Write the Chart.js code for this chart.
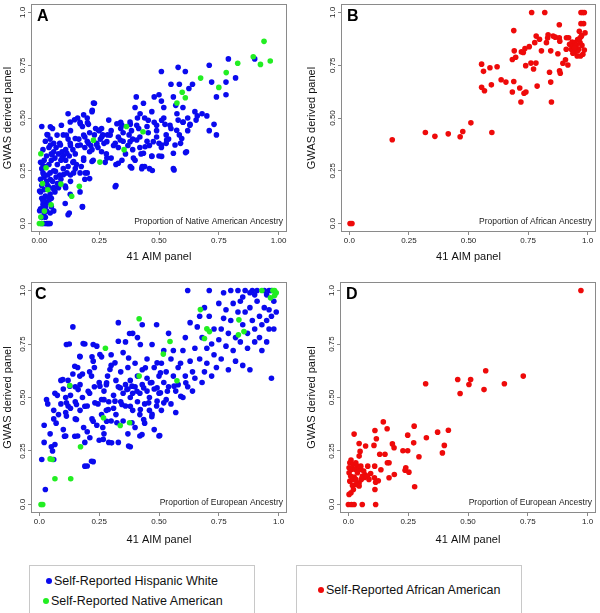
<!DOCTYPE html>
<html>
<head>
<meta charset="utf-8">
<script src="https://cdn.jsdelivr.net/npm/chart.js@4.4.1/dist/chart.umd.min.js"></script>
<style>
  body { margin: 0; background: #fff; width: 600px; height: 613px; position: relative; overflow: hidden; }
  .panel { position: absolute; }
  .legend { position: absolute; border: 1px solid #c8c8c8; background: #fff;
            font-family: "Liberation Sans", Arial, sans-serif; font-size: 12.5px; color: #111; }
  .legend div { position: absolute; white-space: nowrap; }
  .legend span.dot { display: inline-block; width: 6px; height: 6px; border-radius: 50%; margin-right: 2px; vertical-align: 1px; }
</style>
</head>
<body>
<div class="panel" style="left:0;top:0;width:300px;height:265px"><canvas id="chartA"></canvas></div>
<div class="panel" style="left:300px;top:0;width:300px;height:265px"><canvas id="chartB"></canvas></div>
<div class="panel" style="left:0;top:265px;width:300px;height:283px"><canvas id="chartC"></canvas></div>
<div class="panel" style="left:300px;top:265px;width:300px;height:283px"><canvas id="chartD"></canvas></div>

<div class="legend" style="left:29px;top:565px;width:224px;height:47px">
  <div style="left:16px;top:8px"><span class="dot" style="background:#0a0aee"></span>Self-Reported Hispanic White</div>
  <div style="left:13px;top:28px"><span class="dot" style="background:#22ee22"></span>Self-Reported Native American</div>
</div>
<div class="legend" style="left:296px;top:565px;width:224px;height:47px">
  <div style="left:21px;top:17px"><span class="dot" style="background:#ee0a0a"></span>Self-Reported African American</div>
</div>

<script>
// axis ticks shared by all panels
const tickValues = [0, 0.25, 0.5, 0.75, 1];
const yTickLabels = ['0.0', '0.25', '0.50', '0.75', '1.0'];
const xTickLabelsA = ['0.00', '0.25', '0.50', '0.75', '1.00'];
const xTickLabelsB = ['0.0', '0.25', '0.50', '0.75', '1.0'];

// Panel A: Native American ancestry (x = 41 AIM, y = GWAS)
const aBlueX = [0.01,0.02,0.03,0.035,0.04,0.045,0.01,0.02,0.005,0.015,0.03,0.01,0.025,0.005,0.02,0.04,0.01,0.03,0.005,0.02,0.035,0.015,0.045,0.01,0.025,0.04,0.005,0.02,0.05,0.03,0.015,0.05,0.04,0.06,0.01,0.055,0.035,0.045,0.025,0.06,0.07,0.065,0.08,0.075,0.09,0.06,0.07,0.055,0.08,0.065,0.05,0.04,0.06,0.03,0.045,0.025,0.05,0.02,0.045,0.035,0.06,0.075,0.085,0.09,0.1,0.095,0.1,0.11,0.085,0.1,0.12,0.13,0.12,0.13,0.14,0.11,0.125,0.15,0.14,0.12,0.115,0.13,0.15,0.13,0.11,0.125,0.155,0.16,0.165,0.17,0.18,0.16,0.185,0.175,0.17,0.17,0.18,0.19,0.2,0.19,0.2,0.19,0.21,0.205,0.2,0.215,0.22,0.225,0.21,0.23,0.24,0.235,0.25,0.245,0.255,0.22,0.23,0.26,0.265,0.27,0.26,0.28,0.275,0.285,0.29,0.3,0.31,0.3,0.32,0.32,0.33,0.33,0.34,0.34,0.35,0.35,0.36,0.345,0.37,0.375,0.38,0.385,0.39,0.39,0.4,0.38,0.4,0.405,0.41,0.415,0.42,0.42,0.425,0.43,0.44,0.435,0.44,0.45,0.455,0.45,0.46,0.47,0.46,0.48,0.47,0.48,0.49,0.49,0.5,0.51,0.5,0.5,0.51,0.52,0.51,0.52,0.525,0.53,0.54,0.53,0.55,0.56,0.55,0.56,0.57,0.575,0.58,0.585,0.59,0.58,0.585,0.6,0.6,0.61,0.615,0.62,0.62,0.63,0.625,0.64,0.65,0.655,0.66,0.68,0.7,0.71,0.71,0.72,0.73,0.74,0.74,0.78,0.78,0.79,0.82,0.9,
    0.147,0.185,0.226,0.221,0.201,0.171,0.129,0.092,0.046,0.032,0.074,0.113,0.15,0.185,0.247,0.261,0.296,0.324,0.345,0.379,0.407,0.421,0.455,0.49,0.511,0.546,0.574,0.601,0.629,
    0.046,0.088,0.129,0.171,0.205,0.24,0.282,0.317,0.338,0.379,0.407,0.442,0.476,0.511,0.532,0.567,0.595,
    0.053,0.095,0.115,0.143,0.185,0.22,0.282,0.33,0.393,0.435,0.47,0.511,0.56,
    0.067,0.101,0.143,0.192,0.21,0.108,0.129,0.108,0.18,0.12,0.317,0.386,0.428,0.472,0.563,0.611,
    0.001,0.015,0.039,0.001,0.025,0.018,0.046,0.011,0.06];
const aBlueY = [0,0,0,0,0,0,0.03,0.05,0.07,0.09,0.1,0.12,0.13,0.15,0.16,0.17,0.18,0.2,0.21,0.22,0.23,0.24,0.24,0.26,0.27,0.28,0.29,0.3,0.3,0.32,0.35,0.33,0.36,0.34,0.46,0.45,0.42,0.4,0.39,0.38,0.36,0.31,0.33,0.28,0.3,0.25,0.22,0.2,0.17,0.15,0.12,0.1,0.06,0.06,0.05,0.08,0.08,0.11,0.14,0.18,0.17,0.19,0.23,0.21,0.26,0.34,0.32,0.3,0.38,0.42,0.52,0.44,0.4,0.37,0.35,0.35,0.32,0.33,0.29,0.27,0.24,0.23,0.26,0.2,0.17,0.05,0.28,0.37,0.4,0.48,0.46,0.5,0.3,0.27,0.24,0.15,0.08,0.21,0.24,0.36,0.39,0.41,0.43,0.47,0.5,0.37,0.35,0.3,0.34,0.42,0.38,0.45,0.44,0.36,0.4,0.53,0.57,0.45,0.42,0.38,0.34,0.33,0.29,0.42,0.49,0.44,0.37,0.31,0.28,0.18,0.36,0.41,0.45,0.48,0.43,0.39,0.33,0.3,0.37,0.42,0.47,0.44,0.4,0.35,0.3,0.27,0.55,0.6,0.5,0.45,0.41,0.36,0.33,0.27,0.27,0.57,0.5,0.46,0.43,0.39,0.37,0.32,0.26,0.6,0.53,0.48,0.44,0.41,0.38,0.36,0.32,0.61,0.58,0.55,0.72,0.5,0.47,0.42,0.4,0.38,0.45,0.26,0.66,0.6,0.56,0.52,0.49,0.42,0.38,0.74,0.66,0.55,0.48,0.72,0.34,0.5,0.44,0.47,0.64,0.66,0.53,0.49,0.51,0.52,0.51,0.44,0.75,0.67,0.47,0.42,0.6,0.61,0.67,0.78,0.69,0.78,
    0.492,0.515,0.571,0.536,0.478,0.473,0.481,0.466,0.458,0.422,0.419,0.419,0.403,0.419,0.442,0.411,0.419,0.473,0.466,0.481,0.466,0.52,0.489,0.466,0.489,0.466,0.442,0.481,0.466,
    0.372,0.372,0.38,0.372,0.38,0.372,0.388,0.38,0.396,0.388,0.396,0.364,0.388,0.372,0.396,0.372,0.403,
    0.326,0.31,0.333,0.294,0.31,0.294,0.31,0.286,0.31,0.333,0.318,0.318,0.333,
    0.248,0.232,0.24,0.24,0.213,0.178,0.139,0.095,0.079,0.042,0.174,0.263,0.26,0.251,0.254,0.336,
    0.154,0.107,0.123,0.061,0.03,0.232,0.209,0.286,0.162];
const aGreenX = [0.006,0.028,0.013,0.035,0.049,0.021,0.006,0,0.01,0.09,0.135,0.167,0.226,0.253,0.364,0.354,0.433,0.575,0.597,0.61,0.674,0.75,0.781,0.829,0.894,0.924,0.965,0.939];
const aGreenY = [0.331,0.264,0.19,0.16,0.089,0.059,0.031,0,0,0.187,0.129,0.177,0.395,0.291,0.46,0.35,0.435,0.571,0.622,0.596,0.689,0.645,0.715,0.759,0.79,0.754,0.77,0.863];

// Panel B: African ancestry
const bRedX = [0.003,0.011,0.18,0.319,0.359,0.415,0.465,0.476,0.51,0.598,0.555,0.563,0.555,0.567,0.59,0.596,0.62,0.637,0.657,0.684,0.69,0.684,0.692,0.698,0.69,0.722,0.715,0.72,0.73,0.737,0.733,0.741,0.74,0.755,0.762,0.765,0.773,0.778,0.783,0.784,0.788,0.798,0.806,0.82,0.827,0.832,0.834,0.84,0.845,0.845,0.848,0.855,0.864,0.875,0.881,0.881,0.883,0.882,0.885,0.896,0.907,0.911,0.91,0.917,0.92,0.924,0.931,0.935,0.939,0.945,0.947,0.952,0.956,0.958,0.962,0.965,0.968,0.97,0.972,0.972,0.975,0.976,0.979,0.98,0.983,0.986,0.986,0.989,0.965,0.958,0.945,0.938,0.972];
const bRedY = [0,0,0.397,0.431,0.413,0.425,0.411,0.436,0.477,0.431,0.755,0.721,0.646,0.629,0.738,0.657,0.743,0.681,0.67,0.777,0.673,0.623,0.818,0.788,0.914,0.813,0.642,0.576,0.81,0.829,0.617,0.623,0.748,0.838,0.76,1,0.732,0.857,0.76,0.888,0.651,0.873,0.818,1,0.857,0.879,0.894,0.717,0.67,0.818,0.576,0.888,0.883,0.804,0.88,0.942,0.864,0.724,0.712,0.759,0.776,0.88,0.826,0.751,0.88,0.849,0.826,0.86,0.841,0.81,0.857,0.844,0.794,0.872,0.826,0.911,0.857,0.794,1,0.947,0.891,0.844,1,0.802,0.947,1,0.822,0.903,0.875,0.818,0.833,0.807,0.885];

// Panel C: European ancestry, Hispanic / Native American
const cBlueX = [0.01,0.025,0.02,0.02,0.03,0.035,0.045,0.05,0.055,0.06,0.065,0.07,0.06,0.06,0.065,0.075,0.08,0.09,0.09,0.1,0.1,0.11,0.11,0.11,0.12,0.12,0.125,0.13,0.13,0.14,0.14,0.15,0.15,0.15,0.16,0.16,0.17,0.17,0.17,0.18,0.18,0.185,0.19,0.19,0.2,0.2,0.2,0.21,0.21,0.22,0.22,0.225,0.23,0.23,0.24,0.24,0.245,0.25,0.25,0.26,0.26,0.265,0.27,0.27,0.27,0.28,0.28,0.285,0.29,0.29,0.3,0.3,0.3,0.31,0.31,0.32,0.32,0.33,0.33,0.33,0.34,0.34,0.35,0.35,0.35,0.36,0.36,0.36,0.37,0.37,0.37,0.38,0.38,0.38,0.39,0.39,0.39,0.4,0.4,0.4,0.41,0.41,0.41,0.42,0.42,0.42,0.43,0.43,0.43,0.44,0.44,0.45,0.45,0.45,0.46,0.46,0.47,0.47,0.48,0.48,0.48,0.49,0.49,0.5,0.5,0.5,0.51,0.51,0.52,0.52,0.53,0.53,0.54,0.54,0.55,0.55,0.56,0.56,0.57,0.57,0.58,0.58,0.59,0.6,0.6,0.61,0.61,0.62,0.62,0.63,0.63,0.64,0.64,0.65,0.65,0.66,0.67,0.67,0.68,0.68,0.69,0.69,0.7,0.7,0.71,0.71,0.72,0.72,0.73,0.73,0.74,0.75,0.75,0.76,0.76,0.77,0.77,0.78,0.78,0.79,0.79,0.8,0.8,0.81,0.81,0.82,0.82,0.83,0.83,0.84,0.84,0.85,0.85,0.86,0.86,0.87,0.87,0.88,0.88,0.89,0.89,0.9,0.9,0.91,0.91,0.92,0.92,0.93,0.93,0.94,0.94,0.95,0.95,0.96,0.96,0.96,0.97,0.97,0.98,0.98,0.97,0.95,0.9,0.85,0.88,0.99,
    0.113,0.183,0.225,0.33,0.377,0.422,0.471,0.148,0.169,0.225,0.253,0.295,0.316,0.373,0.443,0.492,0.506,0.169,0.218,
    0.098,0.127,0.162,0.204,0.253,0.281,0.338,0.366,0.387,0.408,0.436,0.464,0.492,0.506,0.535,0.563,0.591,0.612,
    0.113,0.155,0.19,0.232,0.26,0.288,0.316,0.345,0.38,0.422,0.457,0.492,0.52,
    0.113,0.155,0.225,0.281,0.324,0.387,0.436,0.471,0.105,0.148,0.211,0.267,0.302,0.429,0.503,0.373,0.19,0.218];
const cBlueY = [0.21,0.07,0.29,0.37,0.49,0.47,0.33,0.27,0.25,0.21,0.28,0.38,0.4,0.44,0.52,0.51,0.42,0.47,0.58,0.54,0.35,0.32,0.43,0.5,0.46,0.58,0.75,0.45,0.51,0.61,0.83,0.55,0.48,0.4,0.32,0.64,0.56,0.69,0.44,0.5,0.61,0.36,0.75,0.29,0.34,0.18,0.46,0.52,0.62,0.69,0.4,0.2,0.55,0.64,0.74,0.37,0.47,0.3,0.57,0.69,0.42,0.36,0.49,0.53,0.33,0.56,0.44,0.6,0.29,0.48,0.39,0.65,0.7,0.51,0.45,0.58,0.42,0.85,0.55,0.29,0.48,0.62,0.52,0.71,0.39,0.76,0.56,0.46,0.54,0.64,0.33,0.27,0.5,0.58,0.8,0.52,0.44,0.55,0.66,0.36,0.48,0.6,0.78,0.52,0.42,0.32,0.56,0.84,0.63,0.47,0.38,0.53,0.59,0.68,0.44,0.5,0.57,0.41,0.54,0.64,0.35,0.84,0.46,0.52,0.6,0.32,0.66,0.44,0.57,0.72,0.49,0.62,0.8,0.55,0.68,0.47,0.6,0.72,0.53,0.43,0.64,0.56,0.66,0.5,0.72,0.78,0.6,0.55,1,0.85,0.67,0.62,0.53,0.73,0.59,0.83,0.68,0.88,0.57,0.78,0.62,0.92,0.73,0.66,1,0.88,0.75,0.6,0.82,0.7,0.64,0.94,0.77,0.82,0.68,0.87,0.99,0.74,0.91,0.63,0.8,1,0.86,0.72,0.94,0.67,0.78,0.9,1,0.95,0.76,0.84,0.65,0.9,1,0.73,0.8,0.63,0.92,1,0.86,0.76,0.82,0.95,1,0.78,0.88,0.72,0.84,1,0.92,0.86,0.76,0.82,1,0.91,0.59,0.88,0.95,0.82,1,0.98,0.98,0.97,0.99,0.9,
    0.748,0.752,0.748,0.763,0.799,0.748,0.748,0.646,0.693,0.67,0.701,0.631,0.662,0.685,0.639,0.662,0.615,0.6,0.6,
    0.584,0.553,0.537,0.529,0.553,0.569,0.545,0.537,0.553,0.529,0.545,0.569,0.545,0.522,0.529,0.553,0.506,0.569,
    0.475,0.467,0.459,0.475,0.491,0.444,0.483,0.467,0.459,0.444,0.475,0.483,0.475,
    0.413,0.397,0.389,0.389,0.382,0.382,0.397,0.421,0.319,0.319,0.312,0.304,0.288,0.327,0.322,0.273,0.179,0.202];
const cGreenX = [0.007,0.014,0.045,0.054,0.065,0.131,0.127,0.172,0.268,0.276,0.338,0.377,0.417,0.417,0.518,0.546,0.575,0.673,0.69,0.7,0.711,0.834,0.855,0.832,0.93,0.966,0.976,0.983,0.99,0.983];
const cGreenY = [0,0,0.213,0.21,0.12,0.12,0.556,0.27,0.405,0.73,0.369,0.382,0.868,0.6,0.703,0.762,0.578,0.911,0.776,0.821,0.808,0.863,0.808,0.793,1,0.966,1,1,0.99,0.977];

// Panel D: European ancestry, African American
const dRedX = [0.972,0.574,0.457,0.467,0.504,0.511,0.567,0.652,0.731,0.323,0.373,0.418,0.401,0.393,0.326,0.275,0.248,0.273,0.295,0.277,0.228,0.248,0.24,0.237,0.253,0.191,0.184,0.192,0.17,0.163,0.17,0.146,0.162,0.153,0.131,0.136,0.117,0.111,0.11,0.107,0.114,0.125,0.109,0.093,0.114,0.058,0.024,0.045,0.049,0.045,0.072,0.081,0.067,0.054,0.045,0.031,0.017,0.003,0.011,0,0.013,0.024,0.006,0.011,0.003,0.014,0.003,0.019,0.031,0.038,0.028,0.045,0.01,0.024,0.006,0.017,0.038,0.052,0.058,0.07,0.079,0.086,0.052,0.064,0.031,0.045,0.021,0.111];
const dRedY = [1,0.625,0.584,0.519,0.561,0.584,0.537,0.564,0.6,0.564,0.338,0.347,0.276,0.241,0.312,0.366,0.324,0.288,0.223,0.083,0.251,0.251,0.171,0.16,0.151,0.265,0.283,0.14,0.125,0.195,0.195,0.386,0.354,0.235,0.235,0.162,0.307,0.346,0.179,0.276,0.104,0.111,0.125,0.145,0,0,0.329,0.285,0.248,0.226,0.273,0.179,0.126,0.117,0.101,0.093,0.089,0.047,0.055,0,0,0,0.195,0.207,0.171,0.164,0.148,0.187,0.195,0.179,0.164,0.164,0.132,0.128,0.109,0.117,0.148,0.164,0.132,0.139,0.132,0.117,0.179,0.156,0.117,0.086,0.07,0.07];

const BLUE = '#0a0aee', GREEN = '#22ee22', RED = '#ee0a0a';
const FONT = '"Liberation Sans", Arial, sans-serif';

function pts(xs, ys) {
    return xs.map(function(x, i) { return { x: x, y: ys[i] }; });
}

// frame round the plot area plus panel letter and inner caption
const panelText = {
    id: 'panelText',
    afterDraw: function(chart, args, opts) {
        const ctx = chart.ctx;
        const a = chart.chartArea;
        ctx.save();
        ctx.strokeStyle = '#8a8a8a';
        ctx.lineWidth = 1;
        ctx.strokeRect(a.left + 0.5, a.top + 0.5, a.width - 1, a.height - 1);
        ctx.fillStyle = '#000';
        ctx.font = 'bold 16px ' + FONT;
        ctx.textBaseline = 'middle';
        ctx.textAlign = 'left';
        ctx.fillText(opts.letter, a.left + opts.letterDx, a.top + 13);
        ctx.font = '8.5px ' + FONT;
        ctx.fillStyle = '#222';
        ctx.textAlign = 'right';
        ctx.fillText(opts.caption, a.right - 4, a.bottom - 10);
        ctx.restore();
    }
};

function makePanel(id, datasets, cfg) {
    const ctx = document.getElementById(id).getContext('2d');
    return new Chart(ctx, {
        type: 'scatter',
        data: { datasets: datasets },
        plugins: [panelText],
        options: {
            responsive: true,
            maintainAspectRatio: false,
            animation: false,
            layout: { padding: { top: cfg.padTop, right: cfg.padRight, left: 0, bottom: 0 } },
            plugins: {
                legend: { display: false },
                tooltip: { enabled: false },
                panelText: { letter: cfg.letter, letterDx: cfg.letterDx, caption: cfg.caption }
            },
            scales: {
                x: {
                    type: 'linear', min: -0.035, max: 1.035,
                    grid: { display: true, drawOnChartArea: false, drawTicks: true, tickLength: 3, color: '#8a8a8a' },
                    border: { display: false },
                    afterBuildTicks: function(s) { s.ticks = tickValues.map(function(v) { return { value: v }; }); },
                    afterFit: function(s) { s.height = cfg.xHeight; },
                    ticks: {
                        padding: 1, color: '#222', font: { family: FONT, size: 8 },
                        maxRotation: 0, autoSkip: false,
                        callback: function(v, i) { return cfg.xLabels[i]; }
                    },
                    title: { display: true, text: '41 AIM panel', color: '#111', font: { family: FONT, size: 11 }, padding: { top: 0, bottom: 1 } }
                },
                y: {
                    type: 'linear', min: -0.04, max: 1.04,
                    grid: { display: true, drawOnChartArea: false, drawTicks: true, tickLength: 3, color: '#8a8a8a' },
                    border: { display: false },
                    afterBuildTicks: function(s) { s.ticks = tickValues.map(function(v) { return { value: v }; }); },
                    afterFit: function(s) { s.width = cfg.yWidth; },
                    ticks: {
                        padding: cfg.yPad, color: '#222', font: { family: FONT, size: 8 },
                        minRotation: 90, maxRotation: 90, crossAlign: 'center', autoSkip: false,
                        callback: function(v, i) { return yTickLabels[i]; }
                    },
                    title: { display: true, text: 'GWAS derived panel', color: '#111', font: { family: FONT, size: 11 }, padding: { top: cfg.yTitlePad, bottom: 0 } }
                }
            }
        }
    });
}

function dot(label, data, color, order) {
    return { label: label, data: data, backgroundColor: color, borderWidth: 0, pointRadius: 2.8, order: order };
}

makePanel('chartA', [
    dot('Self-Reported Native American', pts(aGreenX, aGreenY), GREEN, 0),
    dot('Self-Reported Hispanic White', pts(aBlueX, aBlueY), BLUE, 1)
], { padTop: 1, padRight: 13, xHeight: 33, yWidth: 31, yPad: -3, yTitlePad: 1, letter: 'A', letterDx: 6, caption: 'Proportion of Native American Ancestry', xLabels: xTickLabelsA });

makePanel('chartB', [
    dot('Self-Reported African American', pts(bRedX, bRedY), RED, 0)
], { padTop: 1, padRight: 3, xHeight: 33, yWidth: 41, yPad: -3, yTitlePad: 5, letter: 'B', letterDx: 6, caption: 'Proportion of African Ancestry', xLabels: xTickLabelsB });

makePanel('chartC', [
    dot('Self-Reported Native American', pts(cGreenX, cGreenY), GREEN, 0),
    dot('Self-Reported Hispanic White', pts(cBlueX, cBlueY), BLUE, 1)
], { padTop: 17, padRight: 13, xHeight: 35, yWidth: 31, yPad: -3, yTitlePad: 1, letter: 'C', letterDx: 4, caption: 'Proportion of European Ancestry', xLabels: xTickLabelsB });

makePanel('chartD', [
    dot('Self-Reported African American', pts(dRedX, dRedY), RED, 0)
], { padTop: 17, padRight: 3, xHeight: 35, yWidth: 40, yPad: -3, yTitlePad: 5, letter: 'D', letterDx: 6, caption: 'Proportion of European Ancestry', xLabels: xTickLabelsB });
</script>
</body>
</html>
